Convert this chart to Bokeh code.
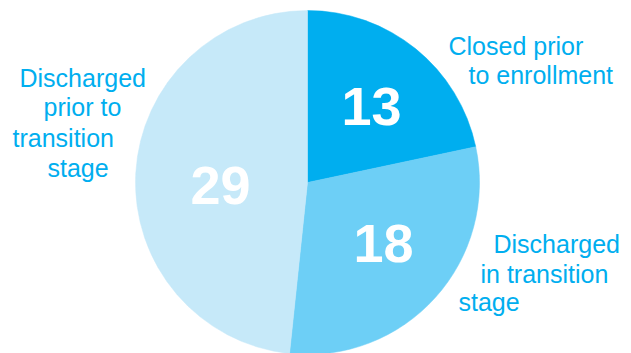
import math
from bokeh.plotting import figure
from bokeh.models import Range1d, ColumnDataSource
from bokeh.core.properties import value
from bokeh.embed import file_html
from bokeh.resources import INLINE

# Data
categories = ["Closed prior to enrollment", "Discharged in transition stage", "Discharged prior to transition stage"]
counts = [13, 18, 29]
colors = ["#00AEEF", "#6DCFF6", "#C6E9F9"]

W, H = 631, 353
p = figure(width=W, height=H, output_backend="svg", toolbar_location=None,
           x_range=Range1d(0, W), y_range=Range1d(0, H), min_border=0)
p.axis.visible = False
p.grid.visible = False
p.outline_line_color = None
p.background_fill_color = "white"
p.border_fill_color = "white"

cx, cy, r = 307, H - 182, 172
total = sum(counts)
starts, ends = [], []
cum = 0
for c in counts:
    a_end = math.pi / 2 - cum / total * 2 * math.pi
    cum += c
    a_start = math.pi / 2 - cum / total * 2 * math.pi
    starts.append(a_start)
    ends.append(a_end)

src = ColumnDataSource(dict(x=[cx] * 3, y=[cy] * 3, start=starts, end=ends, color=colors, cat=categories))
p.wedge(x="x", y="y", radius=r, start_angle="start", end_angle="end", direction="anticlock",
        fill_color="color", line_color="color", line_width=0.5, source=src)

font = value("Liberation Sans")

# Numbers inside slices
num_pos = [(371, 106), (383, 243), (220, 185)]
p.text(x=[q[0] for q in num_pos], y=[H - q[1] for q in num_pos], text=[str(c) for c in counts],
       text_font=font, text_font_size="54px", text_font_style="bold", text_color="white",
       text_align="center", text_baseline="alphabetic")

# Category labels (line-broken)
label_lines = [
    ["Closed prior", "to enrollment"],
    ["Discharged", "in transition", "stage"],
    ["Discharged", "prior to", "transition", "stage"],
]
line_pos = [
    [(448, 45), (468, 74)],
    [(493, 243), (480, 273), (458, 301)],
    [(19, 77), (43, 106), (12, 137), (47, 167)],
]
xs, ys, ts = [], [], []
for lines, poss in zip(label_lines, line_pos):
    for t, (x, y) in zip(lines, poss):
        xs.append(x)
        ys.append(H - y)
        ts.append(t)
p.text(x=xs, y=ys, text=ts, text_font=font, text_font_size="25px", text_color="#00AEEF",
       text_align="left", text_baseline="alphabetic")

open("out.html", "w").write(file_html(p, INLINE))
